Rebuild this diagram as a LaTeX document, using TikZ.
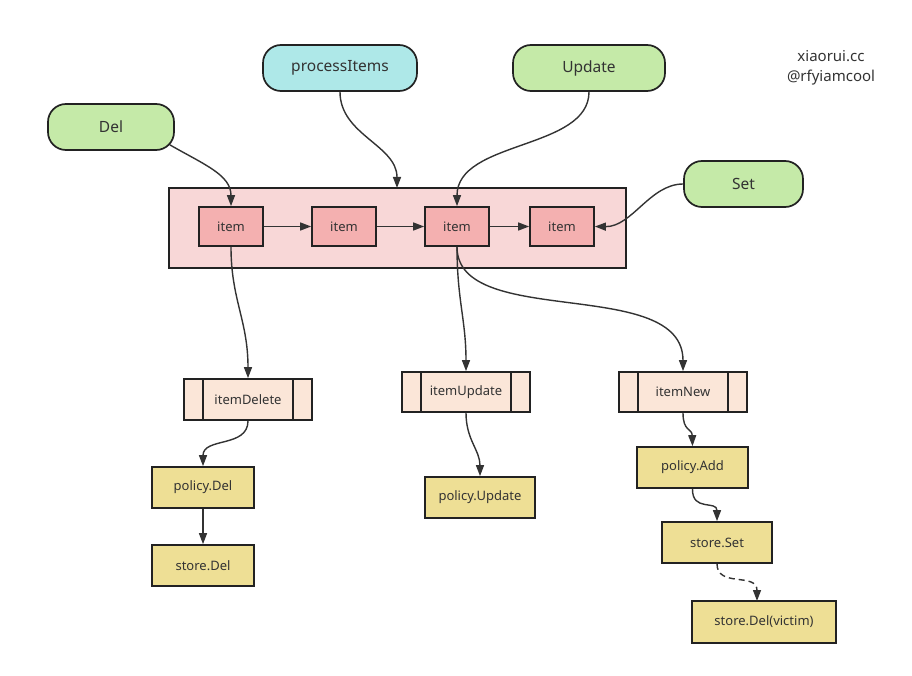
\documentclass[tikz,border=0pt]{standalone}
\usepackage{fontspec}
\setmainfont{Noto Sans}
\usetikzlibrary{arrows.meta,calc}
\definecolor{bd}{HTML}{222222}
\definecolor{ln}{HTML}{333333}
\definecolor{txt}{HTML}{333333}
\definecolor{greenf}{HTML}{C5EAA8}
\definecolor{cyanf}{HTML}{AEE8E8}
\definecolor{pinkbg}{HTML}{F8D7D7}
\definecolor{itemf}{HTML}{F4B0B0}
\definecolor{subf}{HTML}{FBE6D8}
\definecolor{yelf}{HTML}{EEDF95}
\begin{document}
\begin{tikzpicture}[x=1pt,y=-1pt,
  box/.style={draw=bd,line width=1.7pt,inner sep=0pt,font=\fontsize{13}{15}\selectfont,text=txt},
  pill/.style={box,rounded corners=18pt,minimum height=46pt,font=\fontsize{15.5}{18}\selectfont},
  itembox/.style={box,fill=itemf,minimum width=64pt,minimum height=39pt},
  subbox/.style={box,fill=subf,minimum width=128pt,minimum height=40pt},
  yelbox/.style={box,fill=yelf,minimum height=41pt},
  bar/.style={draw=bd,line width=1.7pt},
  conn/.style={draw=ln,line width=1.4pt,-{Triangle[length=11pt,width=8pt]}},
]
\fill[white] (0,0) rectangle (912,676);
\useasboundingbox (0,0) rectangle (912,676);

% top nodes
\node[pill,fill=greenf,minimum width=126pt] (del) at (111,127) {Del};
\node[pill,fill=cyanf,minimum width=154pt] (proc) at (340,68) {processItems};
\node[pill,fill=greenf,minimum width=152pt] (upd) at (589,68) {Update};
\node[pill,fill=greenf,minimum width=119pt] (set) at (743.5,184) {Set};
\node[text=txt,font=\fontsize{15}{20}\selectfont,align=center,inner sep=0pt] (sig) at (831,68) {xiaorui.cc\\@rfyiamcool};

% queue
\node[box,fill=pinkbg,minimum width=457pt,minimum height=80pt] (queue) at (397.5,228) {};
\node[itembox] (i1) at (231,226.5) {item};
\node[itembox] (i2) at (344,226.5) {item};
\node[itembox] (i3) at (457,226.5) {item};
\node[itembox] (i4) at (562,226.5) {item};

% subprocess nodes
\node[subbox,minimum height=41pt] (idel) at (248,399.5) {itemDelete};
\node[subbox] (iupd) at (466,392) {itemUpdate};
\node[subbox] (inew) at (683,392) {itemNew};
\foreach \n in {idel,iupd,inew}{
  \draw[bar] ($(\n.north west)+(20,0)$) -- ($(\n.south west)+(20,0)$);
  \draw[bar] ($(\n.north east)+(-20,0)$) -- ($(\n.south east)+(-20,0)$);
}

% yellow nodes
\node[yelbox,minimum width=102pt] (pdel) at (203,487.5) {policy.Del};
\node[yelbox,minimum width=102pt] (sdel) at (203,565.5) {store.Del};
\node[yelbox,minimum width=110pt] (pupd) at (480,497.5) {policy.Update};
\node[yelbox,minimum width=111pt] (padd) at (692.5,467.5) {policy.Add};
\node[yelbox,minimum width=110pt] (sset) at (717,542.5) {store.Set};
\node[yelbox,minimum width=144pt,minimum height=42pt] (svic) at (764,622) {store.Del(victim)};

% connectors
\coordinate (delout) at ($(del.south east)+(-5,-6)$);
\draw[conn] (delout) .. controls (205,165) and (231,175) .. (i1.north);
\coordinate (qin) at (397,188);
\draw[conn] (proc.south) .. controls (340,135) and (397,145) .. (qin);
\draw[conn] (upd.south) .. controls (589,150) and (457,140) .. (i3.north);
\draw[conn] (set.west) .. controls (650,184) and (632,227) .. (i4.east);
\draw[conn] (i1.east) -- (i2.west);
\draw[conn] (i2.east) -- (i3.west);
\draw[conn] (i3.east) -- (i4.west);
\draw[conn] (i1.south) .. controls (231,300) and (248,320) .. (idel.north);
\draw[conn] (i3.south) .. controls (457,300) and (466,320) .. (iupd.north);
\draw[conn] (i3.south) .. controls (457,330) and (683,275) .. (inew.north);
\draw[conn] (idel.south) .. controls (248,448) and (203,437) .. (pdel.north);
\draw[conn] (pdel.south) -- (sdel.north);
\draw[conn] (iupd.south) .. controls (466,440) and (480,450) .. (pupd.north);
\draw[conn] (inew.south) .. controls (683,432) and (692,428) .. (padd.north);
\draw[conn] (padd.south) .. controls (692,512) and (717,500) .. (sset.north);
\coordinate (vin) at (757,601);
\draw[conn,dashed,dash pattern=on 6pt off 4pt] (sset.south) .. controls (717,588) and (757,572) .. (vin);
\end{tikzpicture}
\end{document}
